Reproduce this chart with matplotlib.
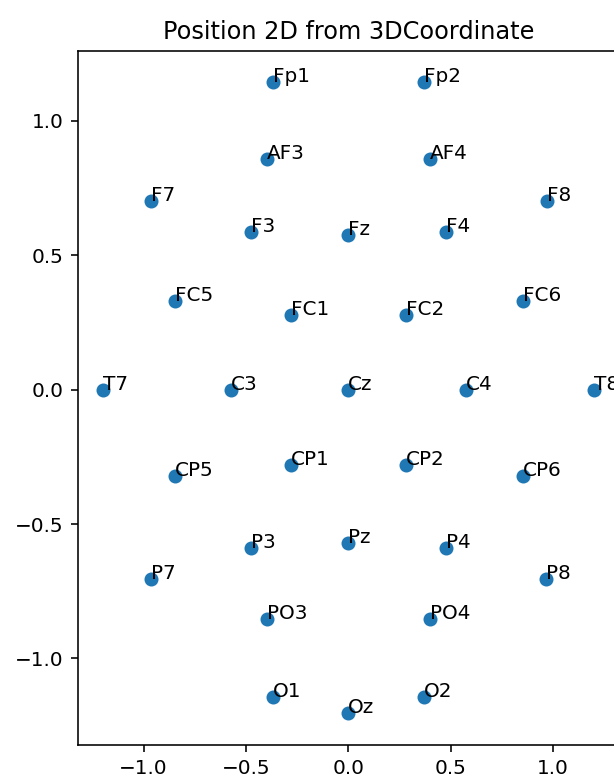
import matplotlib
matplotlib.use("Agg")
import matplotlib.pyplot as plt

# electrode names and 2D positions (projected from 3D coordinates)
names = ["Fp1", "Fp2", "AF3", "AF4", "F7", "F3", "Fz", "F4", "F8",
         "FC5", "FC1", "FC2", "FC6", "T7", "C3", "Cz", "C4", "T8",
         "CP5", "CP1", "CP2", "CP6", "P7", "P3", "Pz", "P4", "P8",
         "PO3", "PO4", "O1", "Oz", "O2"]
xs = [-0.370, 0.369, -0.397, 0.401, -0.966, -0.474, 0.0, 0.478, 0.972,
      -0.849, -0.280, 0.284, 0.853, -1.201, -0.573, 0.0, 0.576, 1.203,
      -0.849, -0.280, 0.284, 0.853, -0.966, -0.474, 0.0, 0.476, 0.969,
      -0.397, 0.399, -0.369, 0.0, 0.369]
ys = [1.144, 1.144, 0.858, 0.858, 0.702, 0.586, 0.576, 0.586, 0.702,
      0.329, 0.279, 0.279, 0.329, 0.0, 0.0, 0.0, 0.0, 0.0,
      -0.323, -0.280, -0.280, -0.323, -0.706, -0.588, -0.570, -0.588, -0.706,
      -0.852, -0.852, -1.144, -1.203, -1.144]

fig = plt.figure(figsize=(614 / 144, 778 / 144), dpi=144)
ax = fig.add_axes([0.127, 0.043, 0.881, 0.892])

ax.scatter(xs, ys)
for name, x, y in zip(names, xs, ys):
    ax.annotate(name, (x, y), fontsize=10)

ax.set_title("Position 2D from 3DCoordinate", fontsize=12)

fig.savefig("out.png", dpi=144)
